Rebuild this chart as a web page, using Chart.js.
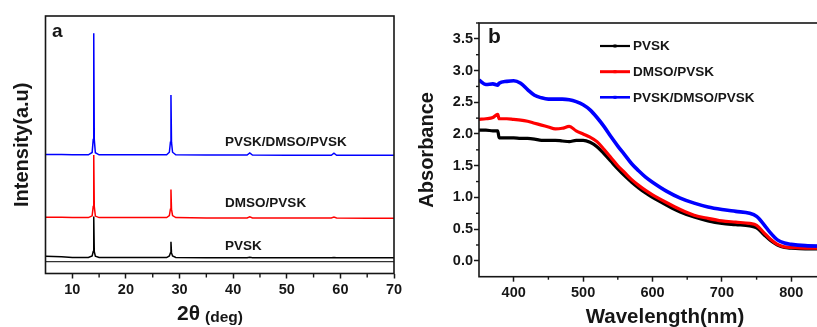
<!DOCTYPE html>
<html>
<head>
<meta charset="utf-8">
<script src="https://cdn.jsdelivr.net/npm/chart.js@4"></script>
<style>
html,body{margin:0;padding:0;background:#fff;overflow:hidden;width:817px;height:327px;}
#wrap{position:relative;width:817px;height:327px;overflow:hidden;background:#fff;}
#p1{position:absolute;left:0;top:0;width:410px;height:327px;}
#p2{position:absolute;left:410px;top:0;width:420px;height:327px;}
</style>
</head>
<body>
<div id="wrap">
  <div id="p1"><canvas id="c1" width="410" height="327"></canvas></div>
  <div id="p2"><canvas id="c2" width="420" height="327"></canvas></div>
</div>
<script>
// ---------------- Panel a : XRD ----------------
const xrdAngles = [5, 8, 10, 13.0, 13.7, 13.9, 14.0, 14.1, 14.3, 15.0, 20, 27.6, 28.1, 28.3, 28.4, 28.5, 28.7, 29.3, 35, 42.6, 43.1, 43.6, 50, 58.3, 58.8, 59.3, 65, 70];
const xrdPVSK   = [6.7, 6.5, 6.2, 6.2, 6.8, 8.5, 22.1, 8.5, 6.7, 6.2, 6.2, 6.2, 6.8, 8.0, 12.3, 8.0, 6.8, 6.2, 6.1, 6.1, 6.3, 6.1, 6.1, 6.1, 6.2, 6.1, 6.1, 6.1];
const xrdDMSO   = [21.8, 21.8, 21.7, 21.7, 22.4, 26, 46.0, 26, 22.3, 21.7, 21.7, 21.7, 22.5, 25, 32.6, 25, 22.5, 21.7, 21.6, 21.6, 22.0, 21.6, 21.6, 21.6, 21.9, 21.6, 21.5, 21.5];
const xrdTriple = [46.2, 46.2, 46.1, 46.1, 47.0, 52, 93.3, 52, 46.9, 46.1, 46.1, 46.1, 47.1, 51, 69.3, 51, 47.1, 46.1, 46.0, 46.0, 46.8, 46.0, 45.9, 45.9, 46.7, 45.9, 45.9, 45.9];
const xrdBaseX  = [5, 70];
const xrdBaseY  = [4.6, 4.6];
const xrdNames  = ['PVSK', 'DMSO/PVSK', 'PVSK/DMSO/PVSK'];
const xrdLabelX = [38.5, 38.5, 38.5];
const xrdLabelY = [10.4, 27.3, 50.8];
const xrdTicks  = [10, 20, 30, 40, 50, 60, 70];

// ---------------- Panel b : Absorbance ----------------
const wavelengths = [350, 360, 370, 377, 379, 390, 400, 410, 420, 430, 440, 450, 460, 470, 480, 490, 500, 510, 520, 530, 540, 550, 560, 570, 580, 590, 600, 620, 640, 660, 680, 700, 720, 740, 750, 760, 770, 780, 790, 800, 820, 850];
const absPVSK   = [2.06, 2.06, 2.05, 2.05, 1.94, 1.94, 1.94, 1.93, 1.93, 1.92, 1.90, 1.90, 1.90, 1.89, 1.88, 1.90, 1.90, 1.87, 1.80, 1.69, 1.57, 1.45, 1.34, 1.24, 1.15, 1.07, 1.00, 0.88, 0.77, 0.69, 0.63, 0.59, 0.57, 0.55, 0.52, 0.42, 0.32, 0.25, 0.21, 0.20, 0.19, 0.19];
const absDMSO   = [2.23, 2.24, 2.26, 2.31, 2.24, 2.24, 2.23, 2.22, 2.20, 2.17, 2.14, 2.11, 2.08, 2.09, 2.12, 2.05, 2.00, 1.95, 1.88, 1.76, 1.63, 1.50, 1.39, 1.28, 1.19, 1.11, 1.04, 0.92, 0.81, 0.72, 0.67, 0.63, 0.61, 0.59, 0.56, 0.45, 0.34, 0.26, 0.22, 0.21, 0.20, 0.20];
const absTriple = [2.85, 2.78, 2.79, 2.77, 2.80, 2.83, 2.84, 2.80, 2.70, 2.61, 2.57, 2.55, 2.55, 2.55, 2.54, 2.51, 2.46, 2.38, 2.26, 2.12, 1.96, 1.81, 1.67, 1.53, 1.42, 1.32, 1.24, 1.10, 0.99, 0.91, 0.85, 0.81, 0.78, 0.75, 0.70, 0.58, 0.44, 0.33, 0.28, 0.26, 0.24, 0.23];
const absNames  = ['PVSK', 'DMSO/PVSK', 'PVSK/DMSO/PVSK'];
const absTicksX = [400, 500, 600, 700, 800];
const absTicksY = [0.0, 0.5, 1.0, 1.5, 2.0, 2.5, 3.0, 3.5];

const FONT = '"Liberation Sans", Arial, sans-serif';
const INK = '#161616';
const toXY = (xs, ys) => xs.map((x, i) => ({x: x, y: ys[i]}));

// frame, minor ticks and free text
const decor = {
  id: 'decor',
  afterDatasetsDraw(chart, args, o) {
    const ctx = chart.ctx, a = chart.chartArea;
    ctx.save();
    ctx.strokeStyle = INK; ctx.lineWidth = 1.6;
    ctx.strokeRect(a.left, a.top, a.right - a.left, a.bottom - a.top);
    ctx.lineWidth = 1.4;
    (o.minor || []).forEach(m => {
      const s = chart.scales[m.id];
      for (let v = m.from; v <= s.max + 1e-9; v += m.step) {
        const p = s.getPixelForValue(v);
        ctx.beginPath();
        if (s.isHorizontal()) { ctx.moveTo(p, a.bottom); ctx.lineTo(p, a.bottom + m.len); }
        else { ctx.moveTo(a.left, p); ctx.lineTo(a.left - m.len, p); }
        ctx.stroke();
      }
    });
    (o.texts || []).forEach(t => {
      ctx.font = t.font; ctx.fillStyle = t.color || INK;
      ctx.textAlign = t.align || 'left'; ctx.textBaseline = t.baseline || 'alphabetic';
      let x = t.x, y = t.y;
      if (t.data) { x = chart.scales.x.getPixelForValue(t.x); y = chart.scales.y.getPixelForValue(t.y); }
      ctx.fillText(t.text, x, y);
    });
    (o.legend || []).forEach((l, i) => {
      const ds = chart.data.datasets[l.index];
      ctx.strokeStyle = ds.borderColor; ctx.lineWidth = l.width;
      ctx.beginPath(); ctx.moveTo(l.x, l.y); ctx.lineTo(l.x + l.len, l.y); ctx.stroke();
      ctx.fillStyle = ds.borderColor;
      ctx.fillRect(l.x + l.len / 2 - 1.5, l.y - 1.5, 3, 3);
      ctx.fillStyle = INK; ctx.font = l.font; ctx.textAlign = 'left'; ctx.textBaseline = 'middle';
      ctx.fillText(ds.label, l.x + l.len + 3, l.y + 0.5);
    });
    ctx.restore();
  }
};

const tickFont = {family: FONT, size: 14.5, weight: 'bold'};
const gridOpt = {display: true, drawOnChartArea: false, drawTicks: true, tickLength: 5, tickWidth: 1.5, tickColor: INK};

// ---- chart a ----
new Chart(document.getElementById('c1'), {
  type: 'line',
  data: {
    datasets: [
      {label: 'baseline', data: toXY(xrdBaseX, xrdBaseY), borderColor: '#333', borderWidth: 1.2, pointRadius: 0},
      {label: xrdNames[0], data: toXY(xrdAngles, xrdPVSK), borderColor: '#000000', borderWidth: 1.5, pointRadius: 0, tension: 0},
      {label: xrdNames[1], data: toXY(xrdAngles, xrdDMSO), borderColor: '#ff0000', borderWidth: 1.5, pointRadius: 0, tension: 0},
      {label: xrdNames[2], data: toXY(xrdAngles, xrdTriple), borderColor: '#0000ff', borderWidth: 1.5, pointRadius: 0, tension: 0}
    ]
  },
  options: {
    responsive: false, animation: false, devicePixelRatio: 1,
    layout: {padding: {top: 16, right: 16, left: 0, bottom: 0}},
    plugins: {
      legend: {display: false}, tooltip: {enabled: false},
      decor: {
        minor: [{id: 'x', from: 15, step: 10, len: 4}],
        texts: [
          {text: 'a', x: 52, y: 37, font: 'bold 19px ' + FONT},
          {text: '2θ', x: 177, y: 320, font: 'bold 21px ' + FONT},
          {text: '(deg)', x: 205, y: 322, font: 'bold 15.5px ' + FONT},
          {text: xrdNames[0], x: xrdLabelX[0], y: xrdLabelY[0], data: true, baseline: 'middle', font: 'bold 13.5px ' + FONT},
          {text: xrdNames[1], x: xrdLabelX[1], y: xrdLabelY[1], data: true, baseline: 'middle', font: 'bold 13.5px ' + FONT},
          {text: xrdNames[2], x: xrdLabelX[2], y: xrdLabelY[2], data: true, baseline: 'middle', font: 'bold 13.5px ' + FONT}
        ]
      }
    },
    scales: {
      x: {
        type: 'linear', min: 5, max: 70,
        afterBuildTicks: s => { s.ticks = xrdTicks.map(v => ({value: v})); },
        afterFit: s => { s.height = 53.5; },
        ticks: {font: tickFont, color: INK, padding: 3, autoSkip: false, maxRotation: 0},
        grid: gridOpt, border: {display: false}
      },
      y: {
        type: 'linear', min: 0, max: 100,
        afterFit: s => { s.width = 45.5; },
        ticks: {display: false}, grid: {display: false}, border: {display: false},
        title: {display: true, text: 'Intensity(a.u)', color: INK, font: {family: FONT, size: 20, weight: 'bold', lineHeight: 1}, padding: {top: 12, bottom: 0}}
      }
    }
  },
  plugins: [decor]
});

// ---- chart b ----
new Chart(document.getElementById('c2'), {
  type: 'line',
  data: {
    datasets: [
      {label: absNames[0], data: toXY(wavelengths, absPVSK), borderColor: '#000000', borderWidth: 3.2, pointRadius: 0, cubicInterpolationMode: 'monotone', order: 2},
      {label: absNames[1], data: toXY(wavelengths, absDMSO), borderColor: '#ff0000', borderWidth: 3.2, pointRadius: 0, cubicInterpolationMode: 'monotone', order: 1},
      {label: absNames[2], data: toXY(wavelengths, absTriple), borderColor: '#0000ff', borderWidth: 3.6, pointRadius: 0, cubicInterpolationMode: 'monotone', order: 0}
    ]
  },
  options: {
    responsive: false, animation: false, devicePixelRatio: 1,
    layout: {padding: {top: 23, right: 4, left: 0, bottom: 0}},
    plugins: {
      legend: {display: false}, tooltip: {enabled: false},
      decor: {
        minor: [{id: 'x', from: 450, step: 100, len: 3}, {id: 'y', from: 0.25, step: 0.5, len: 3}],
        texts: [
          {text: 'b', x: 78, y: 43, font: 'bold 21px ' + FONT},
          {text: 'Wavelength(nm)', x: 255, y: 323, align: 'center', font: 'bold 20.5px ' + FONT}
        ],
        legend: [
          {index: 0, x: 190, y: 46, len: 30, width: 2.2, font: 'bold 13.5px ' + FONT},
          {index: 1, x: 190, y: 71.7, len: 30, width: 3, font: 'bold 13.5px ' + FONT},
          {index: 2, x: 190, y: 97.3, len: 30, width: 2.6, font: 'bold 13.5px ' + FONT}
        ]
      }
    },
    scales: {
      x: {
        type: 'linear', min: 350, max: 850,
        afterBuildTicks: s => { s.ticks = absTicksX.map(v => ({value: v})); },
        afterFit: s => { s.height = 50.3; },
        ticks: {font: tickFont, color: INK, padding: 3, autoSkip: false, maxRotation: 0},
        grid: gridOpt, border: {display: false}
      },
      y: {
        type: 'linear', min: -0.25, max: 3.75,
        afterBuildTicks: s => { s.ticks = absTicksY.map(v => ({value: v})); },
        afterFit: s => { s.width = 69; },
        ticks: {font: tickFont, color: INK, padding: 1, autoSkip: false, callback: v => Number(v).toFixed(1)},
        grid: gridOpt, border: {display: false},
        title: {display: true, text: 'Absorbance', color: INK, font: {family: FONT, size: 20, weight: 'bold', lineHeight: 1}, padding: {top: 7, bottom: 0}}
      }
    }
  },
  plugins: [decor]
});
</script>
</body>
</html>
